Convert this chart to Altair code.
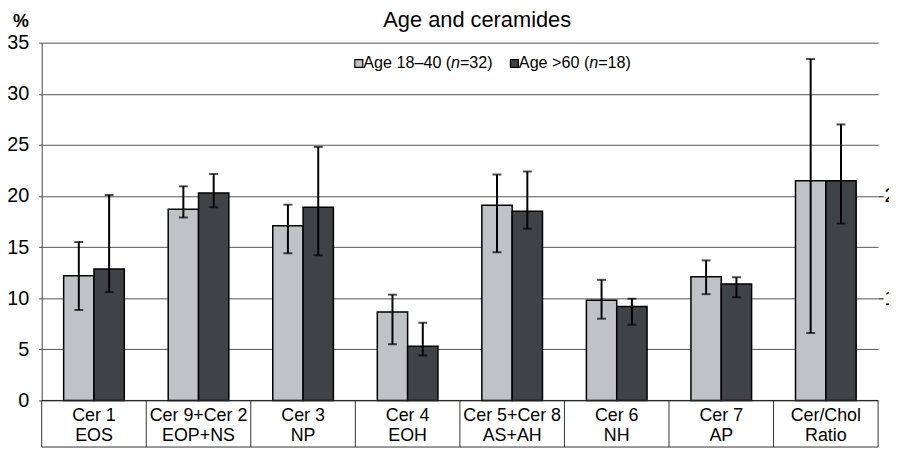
import altair as alt
import pandas as pd

# ---------------- data ----------------
categories = [
    "Cer 1\nEOS",
    "Cer 9+Cer 2\nEOP+NS",
    "Cer 3\nNP",
    "Cer 4\nEOH",
    "Cer 5+Cer 8\nAS+AH",
    "Cer 6\nNH",
    "Cer 7\nAP",
    "Cer/Chol\nRatio",
]
groups = ["Age 18–40 (n=32)", "Age >60 (n=18)"]

# ceramide fractions (%), first seven categories
young_mean = [12.2, 18.7, 17.1, 8.65, 19.1, 9.8, 12.1]
young_lo = [8.85, 17.9, 14.4, 5.5, 14.5, 8.0, 10.4]
young_hi = [15.5, 20.95, 19.15, 10.35, 22.1, 11.8, 13.7]
old_mean = [12.85, 20.3, 18.9, 5.3, 18.5, 9.2, 11.4]
old_lo = [10.6, 18.9, 14.2, 4.4, 16.8, 7.4, 10.1]
old_hi = [20.1, 22.15, 24.8, 7.6, 22.4, 9.95, 12.05]

# Cer/Chol ratio (secondary axis)
ratio_mean = [2.15, 2.15]
ratio_lo = [0.66, 1.73]
ratio_hi = [3.34, 2.70]

pct_ticks = [0, 5, 10, 15, 20, 25, 30, 35]
ratio_ticks = [1, 2]

rows = []
for i, c in enumerate(categories[:7]):
    rows.append(dict(cat=c, grp=groups[0], mean=young_mean[i], lo=young_lo[i], hi=young_hi[i]))
    rows.append(dict(cat=c, grp=groups[1], mean=old_mean[i], lo=old_lo[i], hi=old_hi[i]))
pct = pd.DataFrame(rows)
ratio = pd.DataFrame(dict(cat=[categories[7]] * 2, grp=groups, mean=ratio_mean, lo=ratio_lo, hi=ratio_hi))
catdf = pd.DataFrame(dict(cat=categories))
one = pd.DataFrame(dict(k=[0]))

W, H = 844, 361
FONT = "Liberation Sans"

x_scale = alt.Scale(domain=categories, paddingInner=0.42, paddingOuter=0.21)
x_enc = alt.X("cat:N", sort=categories, scale=x_scale, axis=None)
xo = alt.XOffset("grp:N", scale=alt.Scale(domain=groups, paddingInner=0, paddingOuter=0))
color = alt.Color("grp:N", scale=alt.Scale(domain=groups, range=["#c1c2c5", "#404346"]), legend=None)


def group(df, yscale, yaxis):
    base = alt.Chart(df)
    bars = base.mark_bar(stroke="black", strokeWidth=1.5).encode(
        x=x_enc, xOffset=xo, y=alt.Y("mean:Q", scale=yscale, axis=yaxis), color=color)
    rules = base.mark_rule(color="black", strokeWidth=2).encode(
        x=x_enc, xOffset=xo, y=alt.Y("lo:Q", title=None), y2="hi:Q")
    cap_lo = base.mark_tick(color="black", size=9, thickness=2).encode(
        x=x_enc, xOffset=xo, y=alt.Y("lo:Q", title=None))
    cap_hi = base.mark_tick(color="black", size=9, thickness=2).encode(
        x=x_enc, xOffset=xo, y=alt.Y("hi:Q", title=None))
    return alt.layer(bars, rules, cap_lo, cap_hi)


left = group(
    pct,
    alt.Scale(domain=[0, 35], nice=False),
    alt.Axis(values=pct_ticks, grid=True, gridColor="#555", gridWidth=1, domainColor="#444",
             tickSize=3, tickColor="#444", labelFontSize=20, labelPadding=10, labelFont=FONT,
             labelColor="black", title=None),
)
right = group(
    ratio,
    alt.Scale(domain=[0, 3.5], nice=False),
    alt.Axis(orient="right", values=ratio_ticks, grid=False, domain=False, tickSize=5,
             tickColor="black", labelFontSize=20, labelPadding=1, labelFont=FONT,
             labelColor="black", title=None),
)

cat_labels = alt.Chart(catdf).mark_text(
    lineBreak="\n", baseline="top", align="center", fontSize=18, lineHeight=20, font=FONT, color="black"
).encode(x=x_enc, text="cat:N", y=alt.value(H + 7))

# table lines under the plot: dividers at the category boundaries
dividers = alt.Chart(catdf).mark_rule(color="#333", strokeWidth=1).encode(
    x=alt.X("cat:N", sort=categories, bandPosition=0,
            scale=alt.Scale(domain=categories, paddingInner=0, paddingOuter=0), axis=None),
    y=alt.value(H), y2=alt.value(H + 47))
end_divider = alt.Chart(one).mark_rule(color="#333", strokeWidth=1).encode(
    x=alt.value(W), y=alt.value(H), y2=alt.value(H + 47))
bottom_line = alt.Chart(one).mark_rule(color="#333", strokeWidth=1).encode(
    x=alt.value(0), x2=alt.value(W), y=alt.value(H + 47))
zero_line = alt.Chart(one).mark_rule(color="#222", strokeWidth=1).encode(
    x=alt.value(0), x2=alt.value(W), y=alt.value(H))

title = alt.Chart(one).mark_text(
    text="Age and ceramides", fontSize=22, font=FONT, align="center", baseline="middle", color="black"
).encode(x=alt.value(439.5), y=alt.value(-23))
percent = alt.Chart(one).mark_text(
    text="%", fontSize=18, font=FONT, fontWeight="bold", align="center", baseline="middle", color="black"
).encode(x=alt.value(-21), y=alt.value(-21))

sq1 = alt.Chart(one).mark_rect(fill="#c1c2c5", stroke="black", strokeWidth=1.2).encode(
    x=alt.value(316), x2=alt.value(324), y=alt.value(17), y2=alt.value(25))
sq2 = alt.Chart(one).mark_rect(fill="#404346", stroke="black", strokeWidth=1.2).encode(
    x=alt.value(473), x2=alt.value(481), y=alt.value(17), y2=alt.value(25))


def legtext(t, xpos, italic=False):
    return alt.Chart(one).mark_text(
        text=t, fontSize=16.3, font=FONT, align="left", baseline="middle", color="black",
        fontStyle="italic" if italic else "normal"
    ).encode(x=alt.value(xpos), y=alt.value(21))


legend = [
    legtext("Age 18–40 (", 324.5),
    legtext("n", 413, True),
    legtext("=32)", 422),
    legtext("Age >60 (", 481.5),
    legtext("n", 552.5, True),
    legtext("=18)", 561.5),
]

chart = alt.layer(
    left, right, cat_labels, dividers, end_divider, bottom_line, zero_line,
    title, percent, sq1, sq2, *legend
).resolve_scale(y="independent", x="independent").properties(
    width=W, height=H,
    padding={"left": 34, "top": 33, "right": 11, "bottom": 48},
    autosize=alt.AutoSizeParams(type="none"),
).configure_view(stroke=None)

chart.save("out.html", embed_options={"renderer": "svg", "actions": False})
